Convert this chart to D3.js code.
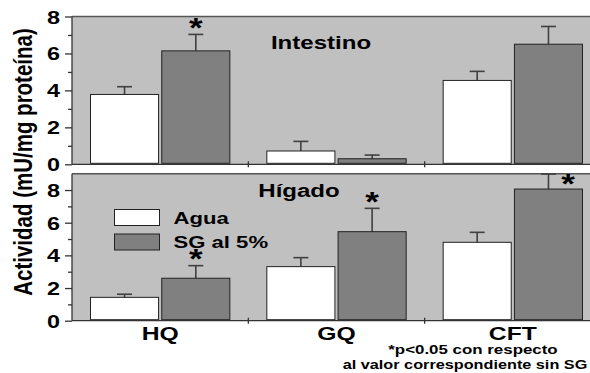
<!DOCTYPE html>
<html><head><meta charset="utf-8">
<script src="https://cdn.jsdelivr.net/npm/d3@7"></script>
<style>
body{margin:0;background:#fff}
svg{display:block}
text{font-family:"Liberation Sans",Arial,sans-serif;font-weight:bold;fill:#000}
</style>
</head><body>
<svg id="c" width="590" height="373"></svg>
<script>
// ---- data ----
const categories = ["HQ", "GQ", "CFT"];
const series = ["Agua", "SG al 5%"];
const intestinoAgua    = [3.78, 0.72, 4.54];
const intestinoAguaErr = [0.42, 0.52, 0.49];
const intestinoSG      = [6.14, 0.30, 6.50];
const intestinoSGErr   = [0.89, 0.20, 0.96];
const intestinoStar    = [true, false, false];
const higadoAgua    = [1.43, 3.31, 4.80];
const higadoAguaErr = [0.19, 0.55, 0.61];
const higadoSG      = [2.60, 5.45, 8.06];
const higadoSGErr   = [0.77, 1.43, 0.92];
const higadoStar    = [true, true, true];
const majorTicks = [0, 2, 4, 6, 8];
const minorTicks = [1, 3, 5, 7];
const yLabel = "Actividad (mU/mg proteína)";
const footnote = ["*p<0.05 con respecto", "al valor correspondiente sin SG"];

// ---- layout ----
const SX = 1.3; // horizontal stretch of the original image
const svg = d3.select("#c");
const left = 72, right = 601;
const colors = {bg: "#c0c0c0", agua: "#ffffff", sg: "#808080", axis: "#333", err: "#404040"};

const x = d3.scaleBand().domain(categories).range([left, right]).padding(0);
const xs = d3.scaleBand().domain(series).range([18.5, x.bandwidth() - 18.5]).paddingInner(0.045);

function stretched(sel, tx, ty, extra) {
  return sel.attr("transform", `translate(${tx},${ty}) scale(${SX},1)` + (extra || ""));
}

function panel(cfg) {
  const y = d3.scaleLinear().domain(cfg.domain).range([cfg.y0, cfg.yTop]);
  const g = svg.append("g");
  const topY = y(cfg.domain[1]);
  g.append("rect").attr("x", left).attr("y", topY).attr("width", 600 - left)
    .attr("height", y(0) - topY).attr("fill", colors.bg);
  g.append("line").attr("x1", left).attr("x2", 600).attr("y1", topY).attr("y2", topY)
    .attr("stroke", "#555").attr("stroke-width", 1.5);

  // bars
  const rows = categories.map((c, i) => [
    {c, s: series[0], v: cfg.agua[i], e: cfg.aguaErr[i], star: false},
    {c, s: series[1], v: cfg.sg[i], e: cfg.sgErr[i], star: cfg.star[i]}
  ]).flat();
  const bw = xs.bandwidth();
  const bx = d => x(d.c) + xs(d.s);
  // error bars
  g.selectAll(".err").data(rows).join("line")
    .attr("x1", d => bx(d) + bw / 2).attr("x2", d => bx(d) + bw / 2)
    .attr("y1", d => y(d.v)).attr("y2", d => y(d.v + d.e))
    .attr("stroke", colors.err).attr("stroke-width", 1.6);
  g.selectAll(".cap").data(rows).join("line")
    .attr("x1", d => bx(d) + bw / 2 - 7.5).attr("x2", d => bx(d) + bw / 2 + 7.5)
    .attr("y1", d => y(d.v + d.e)).attr("y2", d => y(d.v + d.e))
    .attr("stroke", colors.err).attr("stroke-width", 1.6);
  g.selectAll(".bar").data(rows).join("rect")
    .attr("x", bx).attr("width", bw)
    .attr("y", d => y(d.v)).attr("height", d => y(0) - 1 - y(d.v))
    .attr("fill", d => d.s === series[0] ? colors.agua : colors.sg)
    .attr("stroke", "#222").attr("stroke-width", 1);
  // stars
  rows.filter(d => d.star).forEach(d => {
    const top = d.v + d.e;
    const t = g.append("text").attr("text-anchor", "middle").style("font-size", "27px").text("*");
    if (top > cfg.domain[1] - 0.3) {
      stretched(t, bx(d) + bw / 2 + 19.5, y(d.v) + 4);
    } else {
      stretched(t, bx(d) + bw / 2, y(top) + 2.5);
    }
  });

  // y axis
  const ax = g.append("g").attr("transform", `translate(${left},0)`)
    .call(d3.axisLeft(y).tickValues(majorTicks).tickSize(7).tickFormat(d3.format("d")));
  ax.select(".domain").attr("d", `M0,${topY}V${y(0)}`);
  ax.selectAll("line,path").attr("stroke", colors.axis).attr("stroke-width", 1.3);
  ax.selectAll("text").attr("x", null).attr("dy", null).attr("text-anchor", "end")
    .style("font-size", "18px").attr("font-family", null)
    .each(function () { stretched(d3.select(this), -12, 6.5); });
  const mn = g.append("g").attr("transform", `translate(${left},0)`)
    .call(d3.axisLeft(y).tickValues(minorTicks).tickSize(4).tickFormat(""));
  mn.select(".domain").remove();
  mn.selectAll("line").attr("stroke", colors.axis).attr("stroke-width", 1.3);

  // x axis line + boundary ticks
  g.append("line").attr("x1", left).attr("x2", 600).attr("y1", y(0)).attr("y2", y(0))
    .attr("stroke", colors.axis).attr("stroke-width", 1.3);
  g.selectAll(".bt").data(categories.slice(1)).join("line")
    .attr("x1", d => x(d)).attr("x2", d => x(d))
    .attr("y1", y(0) - 3).attr("y2", y(0) + 3)
    .attr("stroke", colors.axis).attr("stroke-width", 1.3);

  // title
  stretched(g.append("text").attr("text-anchor", "middle").style("font-size", "18.5px").text(cfg.title),
    cfg.titleX, cfg.titleY);
  return {g, y};
}

panel({domain: [0, 8], y0: 164.3, yTop: 16.5, agua: intestinoAgua, aguaErr: intestinoAguaErr,
  sg: intestinoSG, sgErr: intestinoSGErr, star: intestinoStar, title: "Intestino", titleX: 321, titleY: 48.5});
panel({domain: [0, 9], y0: 320.7, yTop: 173.7, agua: higadoAgua, aguaErr: higadoAguaErr,
  sg: higadoSG, sgErr: higadoSGErr, star: higadoStar, title: "Hígado", titleX: 299, titleY: 197});

// category labels
categories.forEach(c => {
  stretched(svg.append("text").attr("text-anchor", "middle").style("font-size", "19px").text(c),
    x(c) + x.bandwidth() / 2, 340);
});

// legend
const leg = svg.append("g");
series.forEach((s, i) => {
  leg.append("rect").attr("x", 114.5).attr("y", 209.5 + i * 24.5).attr("width", 45).attr("height", 16)
    .attr("fill", i === 0 ? colors.agua : colors.sg).attr("stroke", "#222").attr("stroke-width", 1);
  stretched(leg.append("text").style("font-size", "17px").text(s), 173.5, 223.5 + i * 24.5);
});

// y label
stretched(svg.append("text").attr("text-anchor", "middle").style("font-size", "20.5px").text(yLabel),
  32, 162, " rotate(-90)");

// footnote
stretched(svg.append("text").attr("text-anchor", "middle").style("font-size", "13px").text(footnote[0]), 473, 354);
stretched(svg.append("text").attr("text-anchor", "middle").style("font-size", "12.5px").text(footnote[1]), 465, 369);
</script>
</body></html>
